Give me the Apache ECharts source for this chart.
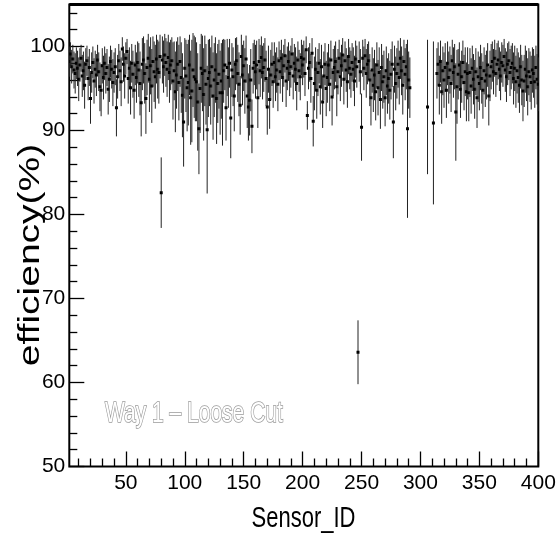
<!DOCTYPE html>
<html><head><meta charset="utf-8">
<script src="https://cdn.jsdelivr.net/npm/echarts@6/dist/echarts.min.js"></script>
<style>html,body{margin:0;padding:0;background:#fff}#c{width:560px;height:535px}</style>
</head><body><div id="c"></div>
<script>
// efficiency (%) for Sensor_ID 1..400 (null = no data)
const efficiency = [
98.9,98.2,99.1,97.6,98.5,97.2,96.8,98.0,97.4,96.1,97.8,98.6,96.5,97.1,95.4,97.9,98.3,96.2,97.5,93.8,
96.9,98.1,95.9,97.3,96.6,98.4,97.0,95.2,94.8,97.7,96.3,98.0,96.8,97.5,94.9,96.1,98.2,97.3,95.7,96.9,
97.6,92.7,96.4,98.3,97.1,95.8,99.7,97.9,96.5,98.6,99.4,96.2,97.4,95.1,98.0,96.7,94.8,97.8,96.3,98.1,
97.2,95.6,93.3,97.9,98.4,96.8,93.8,97.5,98.6,96.1,97.7,95.3,98.2,97.0,96.4,98.5,97.3,96.9,98.8,82.6,
98.4,97.6,99.0,98.1,97.3,98.7,96.9,97.8,98.3,95.9,97.1,94.6,96.6,97.9,95.7,98.2,96.3,94.2,91.0,97.4,
96.5,95.1,95.7,97.8,93.9,94.7,97.2,96.4,96.1,95.8,93.4,90.2,95.0,97.4,96.8,94.3,97.1,95.5,90.1,96.2,
96.9,95.3,97.6,94.1,96.0,97.2,93.8,95.6,96.7,94.5,95.9,94.5,97.1,97.8,92.7,97.5,96.3,98.0,91.5,97.2,
96.4,94.1,97.9,98.3,96.8,95.5,93.0,98.8,96.6,97.7,95.9,98.5,94.1,92.8,93.6,96.0,90.5,97.4,98.1,97.0,
97.8,93.9,98.2,97.1,98.7,96.9,97.5,98.4,96.2,92.8,97.3,93.7,96.6,97.9,95.8,98.1,96.4,97.2,95.5,98.3,
97.0,98.6,96.3,97.7,98.9,95.9,97.4,98.2,96.8,97.6,99.1,96.5,98.0,97.3,95.6,98.4,97.1,96.4,98.7,97.8,
98.5,96.8,99.6,91.8,97.4,98.1,96.2,99.2,91.1,95.6,97.3,94.8,96.9,98.0,95.2,97.6,93.4,96.5,97.9,95.0,
96.3,97.8,95.5,98.4,94.0,96.9,97.5,98.2,95.2,97.0,98.6,96.4,97.7,99.0,96.1,98.3,97.2,95.8,98.8,97.4,
96.7,98.1,97.3,95.9,98.5,97.6,63.6,98.2,97.0,90.4,98.6,97.4,98.9,96.8,97.9,98.3,96.0,93.9,97.2,95.4,
96.6,94.6,97.8,95.1,96.9,93.7,97.5,95.8,96.4,93.9,97.1,95.3,96.2,94.8,96.7,97.9,91.0,97.3,95.6,96.8,
97.9,96.3,98.6,97.1,95.4,98.2,96.7,97.6,90.2,96.0,95.1,null,null,null,null,null,null,null,null,null,
null,null,null,null,null,92.8,null,null,null,null,90.9,null,null,96.8,97.9,95.4,98.2,94.6,97.1,96.0,
97.5,94.8,98.0,96.3,97.2,95.6,98.3,96.9,97.6,92.2,95.2,96.7,97.8,94.9,96.4,98.1,95.7,97.0,94.6,96.8,
94.5,96.9,95.3,97.4,96.1,94.9,97.0,93.9,96.4,95.6,97.5,96.2,94.8,97.1,95.9,96.6,97.8,94.1,96.5,97.6,
98.2,97.0,98.6,96.8,97.9,98.4,97.3,96.5,98.1,97.7,98.8,97.2,96.4,97.9,98.3,96.9,97.5,98.0,96.2,97.4,
95.8,97.1,96.3,95.4,97.6,96.0,94.7,95.9,97.3,96.5,95.2,97.0,96.4,95.7,97.2,96.8,95.8,97.5,96.1,95.5
];
// symmetric error (%) for each sensor
const errors = [
1.5,1.8,1.4,2.0,1.7,2.2,2.4,1.9,2.1,2.6,2.0,1.6,2.5,2.3,2.8,1.9,1.8,2.6,2.2,3.0,
2.4,1.9,2.7,2.2,2.5,1.8,2.3,2.9,3.1,2.1,2.6,2.0,2.4,2.2,3.0,2.7,1.9,2.3,2.8,2.4,
2.2,3.4,2.6,2.0,2.4,2.9,1.4,2.1,2.7,1.9,1.5,3.0,2.5,3.2,2.3,2.8,3.4,2.4,3.0,2.5,
3.2,3.8,4.0,3.1,2.8,3.6,4.2,3.3,2.9,3.9,3.4,4.4,3.0,3.6,3.8,2.9,3.5,3.7,2.6,4.2,
2.8,3.1,2.5,2.9,3.3,2.7,3.6,3.0,2.8,4.6,3.5,4.8,4.0,3.2,4.5,3.0,4.2,5.0,5.3,3.6,
4.3,5.2,5.1,3.6,5.6,6.1,4.4,4.9,5.0,4.7,5.8,5.4,5.3,4.1,4.5,5.5,4.2,4.8,7.6,4.6,
4.0,4.6,3.7,5.2,4.4,3.9,5.4,4.7,4.1,5.0,4.5,6.3,3.8,3.0,3.9,3.4,3.6,2.9,4.8,3.2,
3.5,4.2,3.1,2.8,3.4,3.8,3.5,2.6,3.6,3.0,3.9,2.8,3.8,4.0,4.2,3.7,3.2,3.0,2.7,3.2,
2.9,3.6,2.7,3.1,2.5,3.2,2.9,2.6,3.3,3.3,2.8,3.5,3.0,2.6,3.1,2.4,2.9,2.7,3.2,2.3,
2.6,2.2,2.9,2.5,2.0,3.1,2.6,2.3,2.7,2.5,1.9,2.8,2.3,2.6,3.2,2.2,2.5,2.8,2.1,2.4,
2.2,2.7,1.6,1.7,2.5,2.3,2.9,1.8,3.0,3.2,2.6,3.4,2.8,2.4,3.3,2.6,3.1,2.9,2.5,3.3,
3.0,2.5,3.2,2.3,3.4,2.8,2.6,2.4,3.5,2.7,2.2,2.9,2.5,2.0,3.0,2.3,2.6,3.1,2.1,2.5,
2.8,2.3,2.6,3.0,2.2,2.5,3.8,2.4,2.7,4.0,2.2,2.6,2.0,2.9,2.4,2.3,3.1,3.3,2.7,3.2,
3.0,3.4,2.7,3.3,3.0,3.5,2.8,3.2,3.1,3.4,2.9,3.3,3.0,3.5,3.0,2.7,4.3,2.8,3.2,3.0,
2.8,3.2,2.4,2.9,3.5,2.6,3.1,2.7,10.6,3.4,3.6,null,null,null,null,null,null,null,null,null,
null,null,null,null,null,8.0,null,null,null,null,9.7,null,null,3.0,2.6,3.5,2.5,3.8,2.9,3.3,
2.9,3.3,2.6,3.1,2.8,3.4,2.5,3.0,2.7,5.8,4.4,3.0,2.7,3.4,3.1,2.6,3.3,2.9,3.5,3.1,
3.4,2.9,3.3,2.7,3.0,3.5,2.8,3.6,3.0,3.2,2.7,3.0,3.4,2.8,3.1,2.9,2.6,3.5,3.0,2.7,
2.4,2.7,2.2,2.8,2.5,2.3,2.6,2.9,2.4,2.5,2.1,2.6,3.0,2.5,2.3,2.8,2.6,2.4,3.1,2.7,
3.1,2.7,3.0,3.3,2.6,3.0,3.6,3.1,2.8,3.0,3.4,2.8,3.0,3.2,2.7,2.9,3.1,2.6,3.0,3.2
];
const xMajorTicks = [50,100,150,200,250,300,350,400];
const xMinorTicks = [10,20,30,40,60,70,80,90,110,120,130,140,160,170,180,190,210,220,230,240,260,270,280,290,310,320,330,340,360,370,380,390];
const yMajorTicks = [50,60,70,80,90,100];
const yMinorTicks = [52,54,56,58,62,64,66,68,72,74,76,78,82,84,86,88,92,94,96,98,102,104];
const xTitle = 'Sensor_ID';
const yTitle = 'efficiency(%)';
const note = 'Way 1 \u2013 Loose Cut';

const X_MIN = 2, X_MAX = 400, Y_MIN = 50, Y_MAX = 105;
const FONT = "'Liberation Sans',Arial,sans-serif";

const points = [];
for (let i = 0; i < efficiency.length; i++) {
  if (efficiency[i] !== null) points.push([i + 1, efficiency[i], errors[i]]);
}

function renderItem(params, api) {
  const x = api.value(0), y = api.value(1), e = api.value(2);
  const c = api.coord([x, y]);
  const t = api.coord([x, y + e]);
  const b = api.coord([x, y - e]);
  return {
    type: 'group',
    children: [
      { type: 'line', shape: { x1: c[0], y1: t[1], x2: c[0], y2: b[1] }, style: { stroke: '#222', lineWidth: 1 } },
      { type: 'rect', shape: { x: c[0] - 1.5, y: c[1] - 1.5, width: 3, height: 3 }, style: { fill: '#000' } }
    ]
  };
}

const chart = echarts.init(document.getElementById('c'), null, { renderer: 'canvas' });
const tickLabel = { fontSize: 21, fontFamily: FONT, color: '#000' };
chart.setOption({
  animation: false,
  backgroundColor: '#fff',
  grid: { left: 69.3, right: 21.7, top: 4.5, bottom: 68.5, show: true, borderColor: '#000', borderWidth: 2, backgroundColor: 'transparent' },
  xAxis: [
    { type: 'value', min: X_MIN, max: X_MAX, position: 'bottom',
      axisLine: { show: false }, splitLine: { show: false },
      axisTick: { inside: true, length: 15, customValues: xMajorTicks, lineStyle: { color: '#000', width: 1.3 } },
      axisLabel: Object.assign({ customValues: xMajorTicks, margin: 6 }, tickLabel) },
    { type: 'value', min: X_MIN, max: X_MAX, position: 'bottom',
      axisLine: { show: false }, splitLine: { show: false },
      axisTick: { inside: true, length: 8, customValues: xMinorTicks, lineStyle: { color: '#000', width: 1.3 } },
      axisLabel: { show: false } }
  ],
  yAxis: [
    { type: 'value', min: Y_MIN, max: Y_MAX, position: 'left',
      axisLine: { show: false }, splitLine: { show: false },
      axisTick: { inside: true, length: 15, customValues: yMajorTicks, lineStyle: { color: '#000', width: 1.3 } },
      axisLabel: Object.assign({ customValues: yMajorTicks, margin: 4 }, tickLabel) },
    { type: 'value', min: Y_MIN, max: Y_MAX, position: 'left',
      axisLine: { show: false }, splitLine: { show: false },
      axisTick: { inside: true, length: 8, customValues: yMinorTicks, lineStyle: { color: '#000', width: 1.3 } },
      axisLabel: { show: false } }
  ],
  series: [{
    type: 'custom', xAxisIndex: 0, yAxisIndex: 0, data: points, renderItem: renderItem, clip: true
  }],
  graphic: [
    { type: 'line', shape: { x1: 69.3, y1: 4.5, x2: 538.3, y2: 4.5 }, style: { stroke: '#000', lineWidth: 3 } },
    { type: 'text', x: 303.5, y: 519, scaleY: 1.35, style: { text: xTitle, fontSize: 22, fontFamily: FONT, fill: '#000', textAlign: 'center', textVerticalAlign: 'middle' } },
    { type: 'text', x: 31, y: 255, rotation: Math.PI / 2, scaleX: 1.3, style: { text: yTitle, fontSize: 30, fontFamily: FONT, fill: '#000', textAlign: 'center', textVerticalAlign: 'middle' } },
    { type: 'text', x: 105, y: 414, scaleY: 1.4, style: { text: note, fontSize: 21, fontFamily: FONT, fill: '#fff', stroke: '#9a9a9a', lineWidth: 1.2, textAlign: 'left', textVerticalAlign: 'middle' } }
  ]
});
</script>
</body></html>
